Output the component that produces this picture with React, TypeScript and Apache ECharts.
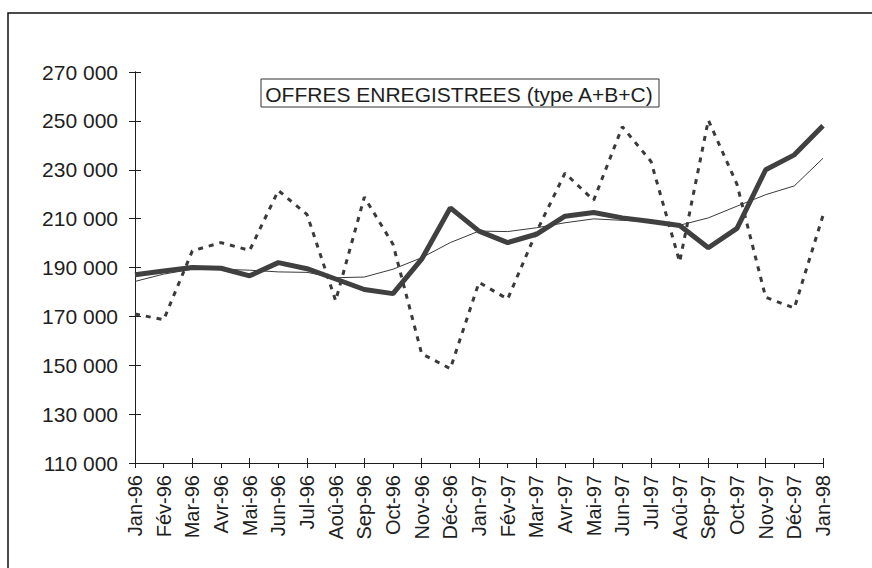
import React, { useEffect, useRef } from "react";
import * as echarts from "echarts";

const categories = [
  "Jan-96", "Fév-96", "Mar-96", "Avr-96", "Mai-96", "Jun-96", "Jul-96", "Aoû-96",
  "Sep-96", "Oct-96", "Nov-96", "Déc-96", "Jan-97", "Fév-97", "Mar-97", "Avr-97",
  "Mai-97", "Jun-97", "Jul-97", "Aoû-97", "Sep-97", "Oct-97", "Nov-97", "Déc-97", "Jan-98",
];

const brutes = [
  171000, 168600, 196800, 200200, 197000, 221500, 211700, 176400, 218800, 199500,
  154700, 148600, 183900, 177100, 204500, 228600, 217500, 247600, 233400, 192300,
  250300, 224000, 177800, 173400, 211300,
];

const cvs = [
  187000, 188600, 190000, 189700, 186600, 192000, 189500, 185300, 181000, 179300,
  193400, 214400, 204900, 200200, 203600, 211000, 212500, 210300, 208800, 207200,
  198100, 206000, 230000, 236100, 248000,
];

const tendance = [
  184300, 187300, 189300, 189300, 188900, 188200, 188000, 185800, 186100, 189300,
  194000, 200200, 204900, 204700, 206250, 208300, 209900, 209300, 208700, 207300,
  210300, 215100, 219800, 223400, 234700,
];

const yMin = 110000;
const yMax = 270000;
const yStep = 20000;
const title = "OFFRES ENREGISTREES (type A+B+C)";

const FONT = "'Liberation Sans', Arial, sans-serif";
const INK = "#1e1e1e";
const LINE = "#3a3a3a";

function fmt(v: number): string {
  return String(v).replace(/\B(?=(\d{3})+(?!\d))/g, " ");
}

export default function App() {
  const ref = useRef<HTMLDivElement>(null);
  useEffect(() => {
    if (!ref.current) return;
    const chart = echarts.init(ref.current, undefined, { renderer: "svg" });
    const yBase = {
      type: "value",
      min: yMin,
      max: yMax,
      interval: yStep,
      position: "left",
      splitLine: { show: false },
      axisLine: { show: true, lineStyle: { color: INK, width: 1 } },
    };
    const xBase = {
      type: "category",
      data: categories,
      boundaryGap: false,
      position: "bottom",
      splitLine: { show: false },
      axisLine: { show: true, lineStyle: { color: INK, width: 1 } },
    };
    chart.setOption({
      animation: false,
      backgroundColor: "#ffffff",
      grid: { left: 135, right: 49, top: 72, bottom: 105, containLabel: false },
      xAxis: [
        {
          ...xBase,
          axisTick: { show: true, inside: false, length: 5, alignWithLabel: true, lineStyle: { color: INK } },
          axisLabel: {
            interval: 0,
            rotate: 90,
            margin: 12,
            color: INK,
            fontFamily: FONT,
            fontSize: 20,
          },
        },
        {
          ...xBase,
          axisTick: { show: true, inside: true, length: 5, lineStyle: { color: INK } },
          axisLabel: { show: false },
        },
      ],
      yAxis: [
        {
          ...yBase,
          axisTick: { show: true, inside: false, length: 6, lineStyle: { color: INK } },
          axisLabel: {
            margin: 17,
            color: INK,
            fontFamily: FONT,
            fontSize: 21,
            formatter: (v: number) => fmt(v),
          },
        },
        {
          ...yBase,
          axisTick: { show: true, inside: true, length: 6, lineStyle: { color: INK } },
          axisLabel: { show: false },
        },
      ],
      graphic: [
        {
          type: "rect",
          shape: { x: 8, y: 13, width: 900, height: 600 },
          style: { fill: "none", stroke: "#111", lineWidth: 1.5 },
          silent: true,
        },
        {
          type: "rect",
          shape: { x: 261, y: 79, width: 398, height: 28 },
          style: { fill: "#fff", stroke: "#333", lineWidth: 1 },
          silent: true,
          z: 10,
        },
        {
          type: "text",
          x: 459,
          y: 94,
          z: 11,
          style: {
            text: title,
            fill: INK,
            font: `21px ${FONT}`,
            textAlign: "center",
            textVerticalAlign: "middle",
          },
          silent: true,
        },
      ],
      series: [
        {
          name: "brutes",
          type: "line",
          data: brutes,
          symbol: "none",
          lineStyle: { color: LINE, width: 3, type: [5, 6] },
          z: 2,
        },
        {
          name: "tendance",
          type: "line",
          data: tendance,
          symbol: "none",
          lineStyle: { color: LINE, width: 1 },
          z: 3,
        },
        {
          name: "cvs",
          type: "line",
          data: cvs,
          symbol: "none",
          lineStyle: { color: "#404040", width: 5 },
          z: 4,
        },
      ],
    });
    return () => chart.dispose();
  }, []);
  return (
    <div
      ref={ref}
      style={{ position: "fixed", left: 0, top: 0, width: 872, height: 568, background: "#fff" }}
    />
  );
}
